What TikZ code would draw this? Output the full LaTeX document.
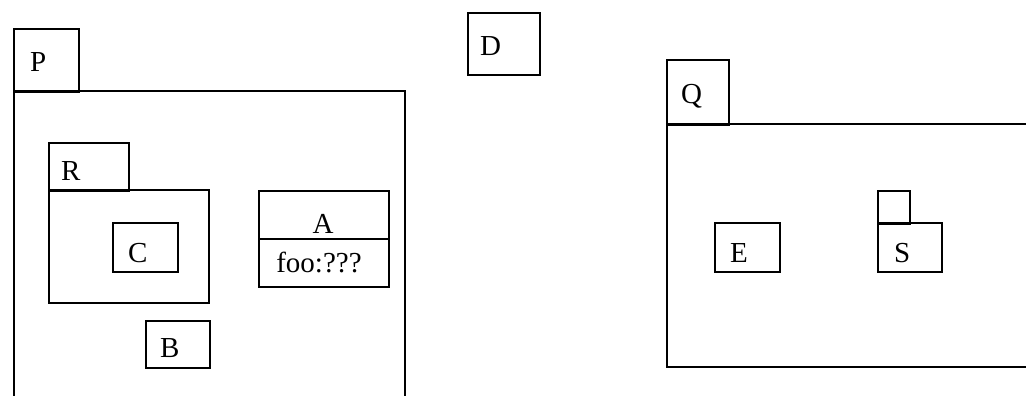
\documentclass[tikz,border=0pt]{standalone}
\usepackage{fontspec}
\setmainfont{Liberation Serif}
\usepackage{tikz}
\usetikzlibrary{positioning,calc}
\tikzstyle{blk}  =[draw, line width=1.8pt, inner sep=0pt, anchor=north west]
\tikzstyle{seam} =[line width=3.2pt]
\tikzstyle{lbl}  =[inner sep=0pt, anchor=base west, font=\fontsize{29}{34}\selectfont]

\begin{document}
\begin{tikzpicture}[x=1pt, y=-1pt]
  \useasboundingbox (0,0) rectangle (1026,396);

  % package P
  \node[blk, minimum width=65pt,  minimum height=62pt]  (Ptab) at (13,28) {};
  \node[blk, minimum width=391pt, minimum height=340pt] (P)    at (13,90) {};
  \draw[seam] (Ptab.south west) -- (Ptab.south east);
  \node[lbl] (Plbl) at (30,72) {P};

  % package R inside P
  \node[blk, minimum width=80pt,  minimum height=47pt]  (Rtab) at (48,142) {};
  \node[blk, minimum width=160pt, minimum height=113pt] (R)    at (48,189) {};
  \draw[seam] (Rtab.south west) -- (Rtab.south east);
  \node[lbl] (Rlbl) at (61,180) {R};

  % classes
  \node[blk, minimum width=65pt,  minimum height=49pt] (C) at (112,222) {};
  \node[lbl] (Clbl) at (128,262) {C};
  \node[blk, minimum width=64pt,  minimum height=47pt] (B) at (145,320) {};
  \node[lbl] (Blbl) at (160,357) {B};
  \node[blk, minimum width=130pt, minimum height=96pt] (A) at (258,190) {};
  \draw[line width=1.8pt] (A.west) -- (A.east);
  \node[lbl, anchor=base] (Albl)   at (323,233) {A};
  \node[lbl, anchor=base] (Aattr)  at (319,272) {foo:???};
  \node[blk, minimum width=72pt,  minimum height=62pt] (D) at (467,12) {};
  \node[lbl] (Dlbl) at (480,56) {D};

  % package Q
  \node[blk, minimum width=62pt,  minimum height=64pt]  (Qtab) at (666,59) {};
  \node[blk, minimum width=400pt, minimum height=243pt] (Q)    at (666,123) {};
  \draw[seam] (Qtab.south west) -- (Qtab.south east);
  \node[lbl] (Qlbl) at (681,103) {Q};

  \node[blk, minimum width=65pt, minimum height=49pt] (E) at (714,222) {};
  \node[lbl] (Elbl) at (730,262) {E};

  % package S (small tab, no name in it)
  \node[blk, minimum width=32pt, minimum height=32pt] (Stab) at (877,190) {};
  \node[blk, minimum width=64pt, minimum height=49pt] (S)    at (877,222) {};
  \draw[seam] (Stab.south west) -- (Stab.south east);
  \node[lbl] (Slbl) at (894,262) {S};

\end{tikzpicture}
\end{document}
